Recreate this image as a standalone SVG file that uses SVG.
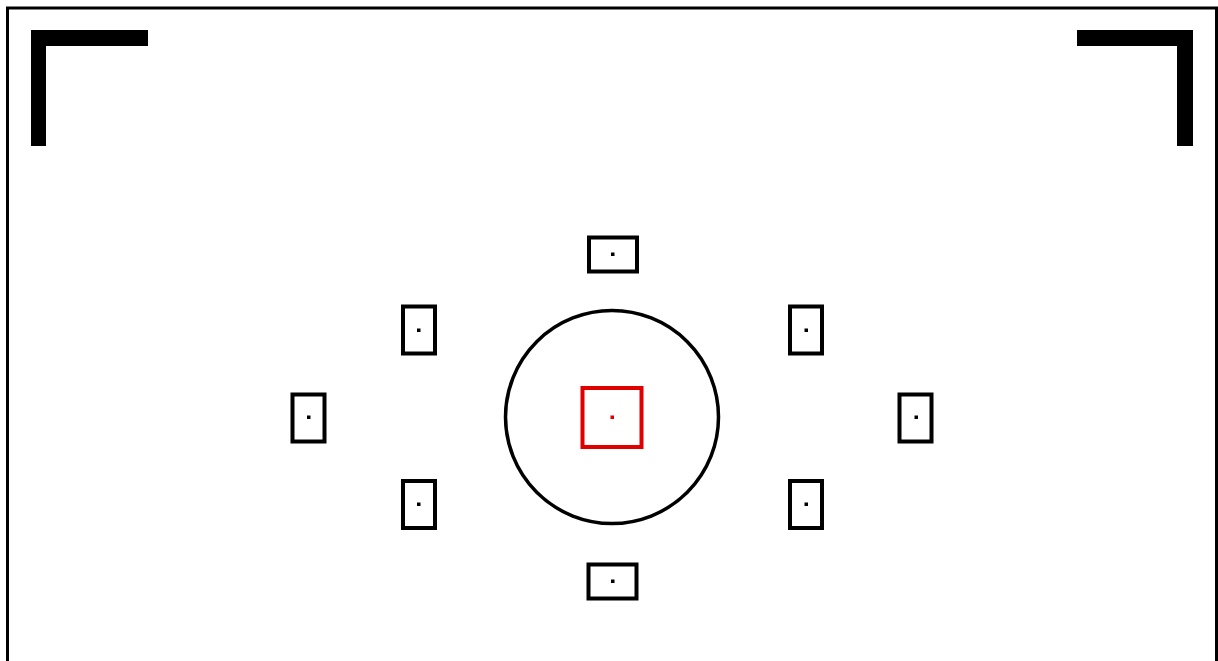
<svg xmlns="http://www.w3.org/2000/svg" width="1218" height="661" viewBox="0 0 1218 661">
<style>
.af{fill:none;stroke:#000;stroke-width:4}
.dot{fill:#000}
.br{fill:#000}
</style>
<rect width="1218" height="661" fill="#fff"/>
<rect id="frame" x="7.5" y="8" width="1209" height="670" fill="none" stroke="#000" stroke-width="3"/>
<g id="corner-tl"><path class="br" d="M31 30H148V46H46V146H31Z"/></g>
<g id="corner-tr"><path class="br" d="M1077 30H1193V146H1177V46H1077Z"/></g>
<g id="metering-circle"><circle cx="612" cy="417" r="106.5" fill="none" stroke="#000" stroke-width="3.5"/></g>
<g id="af-top"><rect class="af" x="589" y="237.5" width="48" height="34"/><rect class="dot" x="611" y="252.5" width="3.5" height="3.5"/></g>
<g id="af-bottom"><rect class="af" x="588.5" y="564.5" width="48" height="34"/><rect class="dot" x="611" y="579.5" width="3.5" height="3.5"/></g>
<g id="af-upper-left"><rect class="af" x="403" y="306.5" width="32" height="47"/><rect class="dot" x="417" y="328.5" width="3.5" height="3.5"/></g>
<g id="af-upper-right"><rect class="af" x="790" y="306.5" width="32" height="47"/><rect class="dot" x="804.5" y="328.5" width="3.5" height="3.5"/></g>
<g id="af-left"><rect class="af" x="292.5" y="394.5" width="32" height="47"/><rect class="dot" x="307" y="415.5" width="3.5" height="3.5"/></g>
<g id="af-right"><rect class="af" x="899.5" y="394.5" width="32" height="47"/><rect class="dot" x="914.5" y="415.5" width="3.5" height="3.5"/></g>
<g id="af-lower-left"><rect class="af" x="403" y="481" width="32" height="47"/><rect class="dot" x="417" y="502.5" width="3.5" height="3.5"/></g>
<g id="af-lower-right"><rect class="af" x="790" y="481" width="32" height="47"/><rect class="dot" x="804.5" y="502.5" width="3.5" height="3.5"/></g>
<g id="af-center"><rect x="582.5" y="388" width="59" height="59" fill="none" stroke="#e00000" stroke-width="4"/><rect x="610.5" y="415.5" width="3.5" height="3.5" fill="#e00000"/></g>
</svg>
